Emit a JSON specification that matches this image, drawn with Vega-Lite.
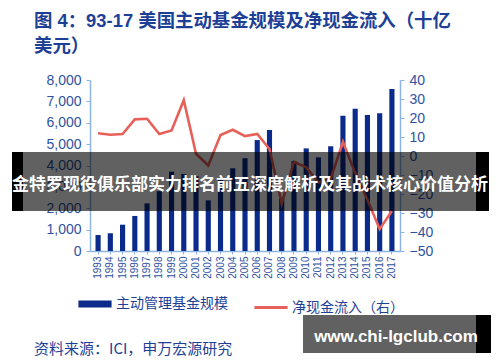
{
  "$schema": "https://vega.github.io/schema/vega-lite/v6.json",
  "width": 310,
  "height": 171,
  "autosize": {"type": "none"},
  "padding": {"left": 90, "top": 80, "right": 100, "bottom": 111},
  "background": "white",
  "title": {
    "text": ["图 4：93-17 美国主动基金规模及净现金流入（十亿", "美元）"],
    "anchor": "start",
    "frame": "group",
    "dx": -56,
    "offset": 18,
    "fontSize": 18.4,
    "fontWeight": "bold",
    "font": "Liberation Sans, Noto Sans CJK SC",
    "color": "#1E3F96",
    "lineHeight": 25
  },
  "data": {
    "values": [
      {"year": "1993", "aum": 750, "flow": 12},
      {"year": "1994", "aum": 830, "flow": 11.2},
      {"year": "1995", "aum": 1230, "flow": 11.6},
      {"year": "1996", "aum": 1640, "flow": 19.3},
      {"year": "1997", "aum": 2230, "flow": 19.6},
      {"year": "1998", "aum": 2800, "flow": 11.6},
      {"year": "1999", "aum": 3710, "flow": 13.4},
      {"year": "2000", "aum": 3600, "flow": 29.4},
      {"year": "2001", "aum": 3500, "flow": 1.2},
      {"year": "2002", "aum": 2370, "flow": -5},
      {"year": "2003", "aum": 3330, "flow": 11},
      {"year": "2004", "aum": 3870, "flow": 13.8},
      {"year": "2005", "aum": 4340, "flow": 10.5},
      {"year": "2006", "aum": 5190, "flow": 11.6},
      {"year": "2007", "aum": 5660, "flow": 3.7},
      {"year": "2008", "aum": 2450, "flow": -25},
      {"year": "2009", "aum": 4200, "flow": -3},
      {"year": "2010", "aum": 4800, "flow": -6},
      {"year": "2011", "aum": 4380, "flow": -14},
      {"year": "2012", "aum": 4900, "flow": -12},
      {"year": "2013", "aum": 6330, "flow": 7.5},
      {"year": "2014", "aum": 6660, "flow": -9},
      {"year": "2015", "aum": 6360, "flow": -23},
      {"year": "2016", "aum": 6440, "flow": -38.5},
      {"year": "2017", "aum": 7580, "flow": -29}
    ]
  },
  "layer": [
    {
      "mark": {"type": "bar"},
      "encoding": {
        "x": {
          "field": "year", "type": "nominal",
          "scale": {"paddingInner": 0.58, "paddingOuter": 0.45},
          "axis": {"title": null, "labelAngle": 270, "labelFontSize": 10, "labelColor": "#2F52A0", "labelFont": "Liberation Sans", "domainColor": "#8DB4E2", "tickColor": "#8DB4E2", "tickSize": 3, "labelPadding": 2, "domainWidth": 1.5}
        },
        "y": {
          "field": "aum", "type": "quantitative",
          "scale": {"domain": [0, 8000], "nice": false},
          "axis": {"title": null, "values": [0, 1000, 2000, 3000, 4000, 5000, 6000, 7000, 8000], "format": ",.0f", "grid": false, "labelFontSize": 14, "labelColor": "#2F52A0", "labelFont": "Liberation Sans", "domainColor": "#8DB4E2", "tickColor": "#8DB4E2", "tickSize": 4, "labelPadding": 5, "domainWidth": 1.5}
        },
        "color": {
          "datum": "主动管理基金规模",
          "scale": {"domain": ["主动管理基金规模", "净现金流入（右）"], "range": ["#0A2A8C", "#E8605A"]},
          "legend": {
            "orient": "none", "legendX": -2, "legendY": 217, "direction": "horizontal", "title": null,
            "symbolType": "stroke", "symbolSize": 1100, "symbolStrokeWidth": 3,
            "labelFontSize": 14, "labelColor": "#1E3F96", "labelFont": "Noto Sans CJK SC",
            "columnPadding": 20, "labelOffset": 14, "padding": 0,
            "encode": {"symbols": {"update": {
              "strokeWidth": {"signal": "datum.value === '主动管理基金规模' ? 7 : 3"},
              "stroke": {"signal": "datum.value === '主动管理基金规模' ? '#0A2A8C' : '#E8605A'"}
            }}}
          }
        }
      }
    },
    {
      "mark": {"type": "line", "strokeWidth": 2.6},
      "encoding": {
        "x": {"field": "year", "type": "nominal"},
        "y": {
          "field": "flow", "type": "quantitative",
          "scale": {"domain": [-50, 40], "nice": false},
          "axis": {"title": null, "orient": "right", "values": [-50, -40, -30, -20, -10, 0, 10, 20, 30, 40], "format": "d", "grid": false, "labelFontSize": 14, "labelColor": "#2F52A0", "labelFont": "Liberation Sans", "domainColor": "#8DB4E2", "tickColor": "#8DB4E2", "tickSize": 4, "labelPadding": 5, "domainWidth": 1.5}
        },
        "color": {"datum": "净现金流入（右）"}
      }
    },
    {
      "data": {"values": [{}]},
      "mark": {"type": "rule", "x": -57, "x2": 378, "y": -22, "color": "#1E3F96", "strokeWidth": 1.5},
      "encoding": {}
    },
    {
      "data": {"values": [{}]},
      "mark": {"type": "rule", "x": -57, "x2": 378, "y": 251, "color": "#1E3F96", "strokeWidth": 1.5},
      "encoding": {}
    },
    {
      "data": {"values": [{}]},
      "mark": {"type": "text", "x": -56, "y": 269, "align": "left", "baseline": "middle", "fontSize": 15, "font": "Noto Sans CJK SC", "color": "#1E3F96", "text": "资料来源：ICI，申万宏源研究"},
      "encoding": {}
    },
    {
      "data": {"values": [{}]},
      "mark": {"type": "rect", "x": -78, "x2": 399, "y": 72, "y2": 131, "color": "#000000", "opacity": 0.62},
      "encoding": {}
    },
    {
      "data": {"values": [{}]},
      "mark": {"type": "rect", "x": -78, "x2": -67, "y": 72, "y2": 131, "color": "#000000", "opacity": 1},
      "encoding": {}
    },
    {
      "data": {"values": [{}]},
      "mark": {"type": "rect", "x": 386, "x2": 399, "y": 72, "y2": 131, "color": "#000000", "opacity": 1},
      "encoding": {}
    },
    {
      "data": {"values": [{}]},
      "mark": {"type": "text", "x": 160, "y": 105, "align": "center", "baseline": "middle", "fontSize": 17, "fontWeight": "bold", "font": "Noto Sans CJK SC", "color": "#FFFFFF", "text": "金特罗现役俱乐部实力排名前五深度解析及其战术核心价值分析"},
      "encoding": {}
    },
    {
      "data": {"values": [{}]},
      "mark": {"type": "rect", "x": 213, "x2": 401, "y": 235, "y2": 273, "color": "#000000", "opacity": 0.62},
      "encoding": {}
    },
    {
      "data": {"values": [{}]},
      "mark": {"type": "rect", "x": 386, "x2": 401, "y": 235, "y2": 273, "color": "#000000", "opacity": 1},
      "encoding": {}
    },
    {
      "data": {"values": [{}]},
      "mark": {"type": "text", "x": 306, "y": 257, "align": "center", "baseline": "middle", "fontSize": 17, "fontWeight": "bold", "font": "Liberation Sans", "color": "#FFFFFF", "text": "www.chi-lgclub.com"},
      "encoding": {}
    }
  ],
  "resolve": {"scale": {"y": "independent"}},
  "config": {"view": {"stroke": null}}
}
